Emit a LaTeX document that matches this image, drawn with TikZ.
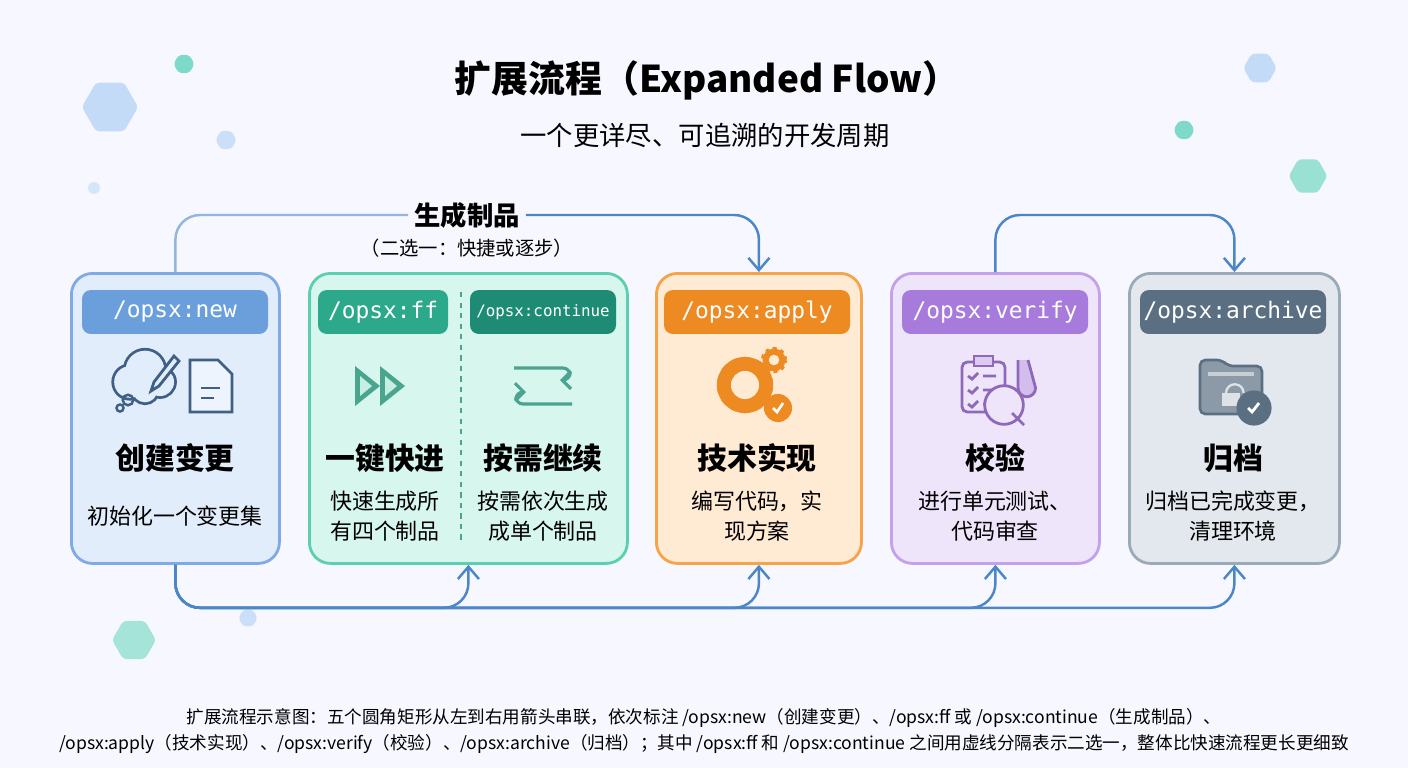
\documentclass[tikz,border=0pt]{standalone}
\usepackage{fontspec}
\setmainfont{Noto Sans CJK SC}
\setmonofont{DejaVu Sans Mono}
\usetikzlibrary{shapes.geometric,arrows.meta,positioning}
\definecolor{lineblue}{HTML}{4A86C8}
\definecolor{newc}{HTML}{7FAAE3}\definecolor{newf}{HTML}{E2EDFB}\definecolor{newb}{HTML}{6A9FDC}
\definecolor{ffc}{HTML}{5BCFB0}\definecolor{fff}{HTML}{D6F6EE}\definecolor{ffb}{HTML}{2BA98A}\definecolor{ctb}{HTML}{1E8C74}
\definecolor{apc}{HTML}{F5A449}\definecolor{apf}{HTML}{FFEAD4}\definecolor{apb}{HTML}{EE8A22}
\definecolor{vec}{HTML}{C3A1EB}\definecolor{vef}{HTML}{EFE5FB}\definecolor{veb}{HTML}{A77BDB}
\definecolor{arc}{HTML}{9AAAB8}\definecolor{arf}{HTML}{E3E8EE}\definecolor{arb}{HTML}{5B6F82}
\definecolor{hexc}{HTML}{A9CCF4}\definecolor{hext}{HTML}{7ED9C8}
\tikzstyle{stage}=[rectangle, rounded corners=12pt, draw, line width=1.6pt, anchor=north west, inner sep=0pt]
\tikzstyle{badge}=[rectangle, rounded corners=5pt, text=white, font=\ttfamily\fontsize{13}{15}\selectfont, minimum height=25pt, inner sep=2pt]
\tikzstyle{head}=[font=\bfseries\fontsize{17}{20}\selectfont]
\tikzstyle{body}=[font=\fontsize{12.5}{17}\selectfont, align=center]
\tikzstyle{hex}=[regular polygon, regular polygon sides=6, rounded corners=2pt, inner sep=0pt]
\tikzstyle{flow}=[lineblue, line width=1.4pt, rounded corners=14pt]
\begin{document}
\begin{tikzpicture}[x=0.02cm, y=-0.02cm, every node/.style={font=\fontsize{12}{14}\selectfont}]
\useasboundingbox[fill=white] (0,0) rectangle (1408,768);
\fill[blue!3] (0,0) rectangle (1408,768);
% decorations
\node[hex, fill=hexc!70, minimum size=32pt] (h1) at (110,107) {};
\node[hex, fill=hext, minimum size=12pt] (h2) at (184,64) {};
\node[hex, fill=hexc!60, minimum size=12pt] (h3) at (226,140) {};
\node[hex, fill=hexc!50, minimum size=8pt] (h4) at (94,188) {};
\node[hex, fill=hext!70, minimum size=25pt] (h5) at (134,640) {};
\node[hex, fill=hexc!60, minimum size=11pt] (h6) at (248,618) {};
\node[hex, fill=hexc!70, minimum size=19pt] (h7) at (1260,68) {};
\node[hex, fill=hext, minimum size=12pt] (h8) at (1184,130) {};
\node[hex, fill=hext!80, minimum size=22pt] (h9) at (1308,176) {};
% titles
\node[font=\bfseries\fontsize{21}{25}\selectfont] (title) at (707,80) {扩展流程（Expanded Flow）};
\node[font=\fontsize{15}{18}\selectfont] (sub) at (705,135) {一个更详尽、可追溯的开发周期};
% stages
\node[stage, draw=newc, fill=newf, minimum width=208*0.02cm, minimum height=290*0.02cm] (s1) at (70,272) {};
\node[stage, draw=ffc, fill=fff, minimum width=318*0.02cm, minimum height=290*0.02cm] (s2) at (308,272) {};
\node[stage, draw=apc, fill=apf, minimum width=205*0.02cm, minimum height=290*0.02cm] (s3) at (655,272) {};
\node[stage, draw=vec, fill=vef, minimum width=208*0.02cm, minimum height=290*0.02cm] (s4) at (890,272) {};
\node[stage, draw=arc, fill=arf, minimum width=210*0.02cm, minimum height=290*0.02cm] (s5) at (1128,272) {};
\draw[ffc!80!black, dashed, line width=1pt] (461,292) -- (461,545);
% badges
\node[badge, fill=newb, minimum width=186*0.02cm] (b1) at (175,312) {/opsx:new};
\node[badge, fill=ffb, minimum width=130*0.02cm] (b2) at (383,312) {/opsx:ff};
\node[badge, fill=ctb, minimum width=146*0.02cm, font=\ttfamily\fontsize{9}{11}\selectfont] (b2b) at (543,312) {/opsx:continue};
\node[badge, fill=apb, minimum width=186*0.02cm] (b3) at (757,312) {/opsx:apply};
\node[badge, fill=veb, minimum width=186*0.02cm] (b4) at (995,312) {/opsx:verify};
\node[badge, fill=arb, minimum width=186*0.02cm] (b5) at (1233,312) {/opsx:archive};
% icons
\begin{scope}[newb!60!black]
\draw[line width=3.2pt] (130,382) circle (9pt) (145,370) circle (11pt) (160,382) circle (8pt) (145,390) circle (7pt);
\fill[newf] (130,382) circle (9pt) (145,370) circle (11pt) (160,382) circle (8pt) (145,390) circle (7pt);
\draw[line width=1.4pt] (120,408) circle (2pt) (128,400) circle (3pt);
\draw[line width=1.6pt, fill=newf] (174,356) -- (154,382) -- (151,391) -- (159,386) -- (179,361) -- cycle;
\draw[line width=1.6pt, fill=newf!60] (190,360) -- (218,360) -- (232,374) -- (232,412) -- (190,412) -- cycle;
\draw[line width=1.6pt] (201,388) -- (220,388) (201,398) -- (214,398);
\end{scope}
\fill[ffc!80!black] (355,366) -- (380,386) -- (355,406) -- cycle (380,366) -- (405,386) -- (380,406) -- cycle;
\fill[ffc!35] (360,376) -- (372,386) -- (360,396) -- cycle (385,376) -- (397,386) -- (385,396) -- cycle;
\begin{scope}[ctb!80, line width=1.8pt, -{Straight Barb[length=5pt]}]
\draw[rounded corners=4pt] (514,368) -- (570,368) -- (570,380) -- (560,380);
\draw[rounded corners=4pt] (572,404) -- (516,404) -- (516,392) -- (526,392);
\end{scope}
\begin{scope}[apb]
\draw[line width=6pt, dash pattern=on 3pt off 3pt] (745,385) circle (13pt);
\fill (745,385) circle (16pt);
\fill[apf] (745,385) circle (8pt);
\draw[line width=3pt, dash pattern=on 2pt off 2pt] (774,360) circle (6pt);
\fill (774,360) circle (6.5pt);
\fill[apf] (774,360) circle (3pt);
\fill (778,408) circle (8pt);
\draw[white, line width=1.5pt] (773,408) -- (777,412) -- (783,403);
\end{scope}
\begin{scope}[veb!85!black, line width=1.6pt]
\draw[fill=vef, rounded corners=3pt] (962,362) rectangle (1005,412);
\draw[fill=veb!40] (974,356) rectangle (993,366);
\foreach \yy in {376,390,404} \draw (968,\yy) -- (972,\yy+3) -- (978,\yy-3) (983,\yy) -- (996,\yy);
\draw[fill=veb!50] (1018,360) -- (1018,388) arc (180:360:5pt) -- (1028,360);
\draw[fill=vef] (1004,405) circle (11pt) (1012,413) -- (1024,425);
\end{scope}
\begin{scope}[arb]
\draw[fill=arb!70, line width=1.5pt, rounded corners=3pt] (1200,360) -- (1222,360) -- (1228,366) -- (1262,366) -- (1262,414) -- (1200,414) -- cycle;
\fill[arb!35] (1208,372) rectangle (1254,376);
\draw[white!80!arb, line width=1.3pt] (1226,393) arc (180:0:5pt);
\fill[white!80!arb] (1222,393) rectangle (1240,406);
\fill[arb] (1254,408) circle (10pt);
\draw[white, line width=1.6pt] (1248,408) -- (1252,412) -- (1259,403);
\end{scope}
% texts
\node[head] (t1) at (175,458) {创建变更};
\node[body] (d1) at (175,516) {初始化一个变更集};
\node[head] (t2) at (385,458) {一键快进};
\node[body] (d2) at (385,516) {快速生成所\\有四个制品};
\node[head] (t2b) at (543,458) {按需继续};
\node[body] (d2b) at (543,516) {按需依次生成\\成单个制品};
\node[head] (t3) at (757,458) {技术实现};
\node[body] (d3) at (757,516) {编写代码，实\\现方案};
\node[head] (t4) at (995,458) {校验};
\node[body] (d4) at (995,516) {进行单元测试、\\代码审查};
\node[head] (t5) at (1233,458) {归档};
\node[body] (d5) at (1233,516) {归档已完成变更，\\清理环境};
% top connectors
\node[font=\bfseries\fontsize{15}{18}\selectfont] (gen) at (467,215) {生成制品};
\node[font=\fontsize{11}{13}\selectfont] (alt) at (467,248) {（二选一：快捷或逐步）};
\draw[flow, lineblue!60] (s1.north) |- (gen.west);
\draw[flow, -{Straight Barb[length=7pt,width=12pt]}] (gen.east) -| (s3.north);
\coordinate (top2) at (1110,215);
\draw[flow, -{Straight Barb[length=7pt,width=12pt]}] (s4.north) |- (top2) -| (s5.north);
% bottom connectors
\path (s1.south) ++(0,43) coordinate (bus);
\foreach \tgt in {s2,s3,s4,s5}
  \draw[flow, -{Straight Barb[length=7pt,width=12pt]}] (s1.south) -- (bus) -| (\tgt.south);
% caption
\node[font=\fontsize{10}{15}\selectfont, align=center] (cap) at (704,731) {扩展流程示意图：五个圆角矩形从左到右用箭头串联，依次标注 /opsx:new（创建变更）、/opsx:ff 或 /opsx:continue（生成制品）、\\/opsx:apply（技术实现）、/opsx:verify（校验）、/opsx:archive（归档）；其中 /opsx:ff 和 /opsx:continue 之间用虚线分隔表示二选一，整体比快速流程更长更细致};
\end{tikzpicture}
\end{document}
